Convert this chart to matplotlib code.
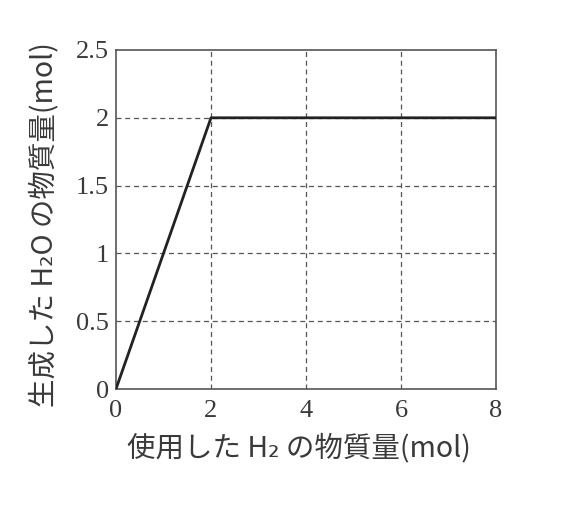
import matplotlib.pyplot as plt

h2_used = [0, 2, 8]
h2o_made = [0, 2, 2]
x_ticks = [0, 2, 4, 6, 8]
y_ticks = [0, 0.5, 1, 1.5, 2, 2.5]
y_tick_labels = ['0', '0.5', '1', '1.5', '2', '2.5']

jp = ['Noto Sans CJK JP', 'DejaVu Sans']

fig = plt.figure(figsize=(5.75, 5.05), dpi=100)
ax = fig.add_axes([0.2017, 0.2297, 0.6609, 0.6713])

# dashed grid only inside the frame
ax.vlines(x_ticks[1:-1], 0, 2.5, colors='#555555', lw=0.9, linestyles=(0, (4, 3)))
ax.hlines(y_ticks[1:-1], 0, 8, colors='#555555', lw=0.9, linestyles=(0, (4, 3)))

ax.plot(h2_used, h2o_made, color='#222222', lw=2, solid_capstyle='butt', zorder=3)
ax.set_xlim(0, 8)
ax.set_ylim(0, 2.5)
ax.set_xticks(x_ticks)
ax.set_yticks(y_ticks)
ax.set_yticklabels(y_tick_labels)
ax.tick_params(length=0, labelsize=19, colors='#3a3a3a')
ax.tick_params(axis='x', pad=8)
ax.tick_params(axis='y', pad=5)
for lab in ax.get_xticklabels() + ax.get_yticklabels():
    lab.set_family('Liberation Serif')
for s in ax.spines.values():
    s.set_color('#555555')
    s.set_linewidth(1.2)

fig.text(0.52, 0.113, '使用した H₂ の物質量(mol)', family=jp, fontsize=20.5,
         color='#3a3a3a', ha='center', va='center')
fig.text(0.078, 0.555, '生成した H₂O の物質量(mol)', family=jp, fontsize=20.5,
         color='#3a3a3a', ha='center', va='center', rotation=90)

fig.savefig('out.png', dpi=100)
